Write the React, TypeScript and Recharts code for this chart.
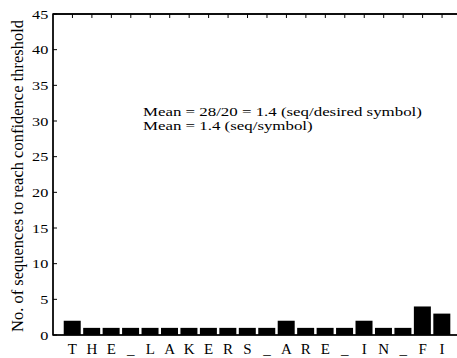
import { ComposedChart, Bar, XAxis, YAxis, ReferenceLine, ReferenceArea, Customized } from "recharts";

const letters = ["T", "H", "E", "_", "L", "A", "K", "E", "R", "S", "_", "A", "R", "E", "_", "I", "N", "_", "F", "I"];
const sequences = [2, 1, 1, 1, 1, 1, 1, 1, 1, 1, 1, 2, 1, 1, 1, 2, 1, 1, 4, 3];
const yTicks = [0, 5, 10, 15, 20, 25, 30, 35, 40, 45];
const xTicks = letters.map((_, i) => i + 1);

const yLabel = "No. of sequences to reach confidence threshold";
const notes = ["Mean = 28/20 = 1.4 (seq/desired symbol)", "Mean = 1.4 (seq/symbol)"];

const data = letters.map((l, i) => ({ pos: i + 1, letter: l, value: sequences[i] }));

const FONT = "'Liberation Serif', 'Times New Roman', serif";
const TICK = 4;
const TICK_Y = 0.56; // ~4px in y units
const TICK_X = 0.2; // ~4px in x units

function LeftTick({ x, y, payload }: any) {
  return (
    <g>
      <line x1={x} x2={x + TICK} y1={y} y2={y} stroke="#000" />
      <text
        transform={`translate(${x - 4.7},${y}) scale(1.2,1)`}
        dy="0.35em"
        textAnchor="end"
        fontSize={13.5}
        fontFamily={FONT}
        fill="#000"
      >
        {payload.value}
      </text>
    </g>
  );
}

function BottomTick({ x, y, payload }: any) {
  return (
    <g>
      <line x1={x} x2={x} y1={y} y2={y - TICK} stroke="#000" />
      <text x={x} y={354} textAnchor="middle" fontSize={15} fontFamily={FONT} fill="#000">
        {letters[payload.value - 1]}
      </text>
    </g>
  );
}

function Notes() {
  return (
    <g fontFamily={FONT} fill="#000">
      <text transform="translate(22.5,176) rotate(-90)" textAnchor="middle" fontSize={16.5}>
        {yLabel}
      </text>
      {notes.map((n, i) => (
        <text key={i} transform={`translate(143,${115.7 + i * 14.3}) scale(1.25,1)`} fontSize={13.5}>
          {n}
        </text>
      ))}
    </g>
  );
}

export default function App() {
  return (
    <div style={{ position: "fixed", left: 0, top: 0, width: 457, height: 358, overflow: "hidden", background: "#fff" }}>
      <ComposedChart width={472} height={358} data={data} margin={{ top: 14, right: 10.5, bottom: 0, left: 0 }}>
        <XAxis
          dataKey="pos"
          type="number"
          domain={[0, 21]}
          ticks={xTicks}
          interval={0}
          height={23}
          tickSize={0}
          tickMargin={0}
          tickLine={false}
          stroke="#000"
          tick={<BottomTick />}
        />
        <YAxis
          domain={[0, 45]}
          ticks={yTicks}
          interval={0}
          width={53}
          tickSize={0}
          tickMargin={0}
          tickLine={false}
          stroke="#000"
          tick={<LeftTick />}
        />
        <Bar dataKey="value" fill="#000" barSize={17} isAnimationActive={false} />

        {/* box frame with inward ticks on the top and right edges */}
        <ReferenceArea x1={0} x2={21} y1={0} y2={45} fill="none" fillOpacity={0} stroke="#000" strokeWidth={1.5} ifOverflow="visible" />
        <ReferenceLine y={45} stroke="#000" strokeWidth={1.5} ifOverflow="visible" />
        {xTicks.map((t) => (
          <ReferenceLine key={`t${t}`} segment={[{ x: t, y: 45 }, { x: t, y: 45 - TICK_Y }]} stroke="#000" ifOverflow="visible" />
        ))}
        {yTicks.map((t) => (
          <ReferenceLine key={`r${t}`} segment={[{ x: 21, y: t }, { x: 21 - TICK_X, y: t }]} stroke="#000" ifOverflow="visible" />
        ))}
        <Customized component={<Notes />} />
      </ComposedChart>
    </div>
  );
}
